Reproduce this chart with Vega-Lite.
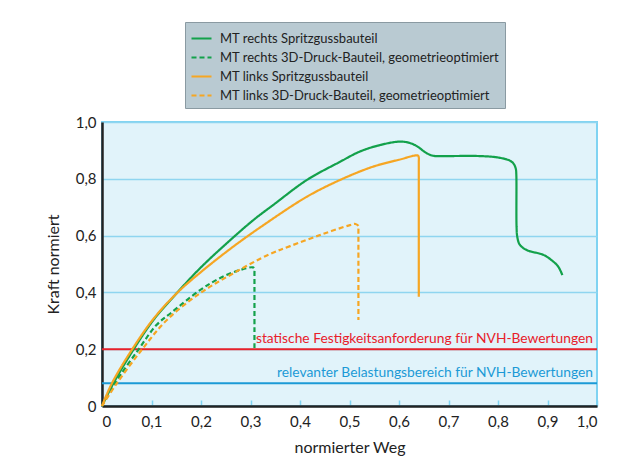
{
  "$schema": "https://vega.github.io/schema/vega-lite/v6.json",
  "autosize": "none",
  "width": 495,
  "height": 284,
  "padding": {"left": 102, "top": 122, "right": 38, "bottom": 68},
  "background": "#ffffff",
  "config": {
    "font": "Lato",
    "view": {"fill": "#e1f3fa", "stroke": "#7fd3f2", "strokeWidth": 2},
    "axis": {"labelFont": "Lato", "titleFont": "Lato", "labelFontSize": 15, "titleFontSize": 16, "labelColor": "#222", "titleColor": "#222", "titleFontWeight": "normal", "domainColor": "#222", "domainWidth": 2.5},
    "legend": {"orient": "none", "legendX": 83, "legendY": -100, "fillColor": "#b9cad2", "strokeColor": "#8a9aa2", "padding": 5, "symbolType": "stroke", "symbolStrokeWidth": 2.2, "symbolSize": 400, "labelFontSize": 13, "labelFont": "Lato", "labelColor": "#222", "rowPadding": 0, "labelOffset": 7, "labelLimit": 400}
  },
  "datasets": {
    "curves": [
      {"s": "MT rechts Spritzgussbauteil", "i": 1, "x": 0, "y": 0},
      {"s": "MT rechts Spritzgussbauteil", "i": 2, "x": 0.023, "y": 0.08},
      {"s": "MT rechts Spritzgussbauteil", "i": 3, "x": 0.063, "y": 0.197},
      {"s": "MT rechts Spritzgussbauteil", "i": 4, "x": 0.104, "y": 0.303},
      {"s": "MT rechts Spritzgussbauteil", "i": 5, "x": 0.154, "y": 0.403},
      {"s": "MT rechts Spritzgussbauteil", "i": 6, "x": 0.198, "y": 0.485},
      {"s": "MT rechts Spritzgussbauteil", "i": 7, "x": 0.252, "y": 0.573},
      {"s": "MT rechts Spritzgussbauteil", "i": 8, "x": 0.306, "y": 0.655},
      {"s": "MT rechts Spritzgussbauteil", "i": 9, "x": 0.346, "y": 0.708},
      {"s": "MT rechts Spritzgussbauteil", "i": 10, "x": 0.414, "y": 0.796},
      {"s": "MT rechts Spritzgussbauteil", "i": 11, "x": 0.481, "y": 0.86},
      {"s": "MT rechts Spritzgussbauteil", "i": 12, "x": 0.521, "y": 0.896},
      {"s": "MT rechts Spritzgussbauteil", "i": 13, "x": 0.562, "y": 0.919},
      {"s": "MT rechts Spritzgussbauteil", "i": 14, "x": 0.602, "y": 0.931},
      {"s": "MT rechts Spritzgussbauteil", "i": 15, "x": 0.622, "y": 0.926},
      {"s": "MT rechts Spritzgussbauteil", "i": 16, "x": 0.636, "y": 0.915},
      {"s": "MT rechts Spritzgussbauteil", "i": 17, "x": 0.656, "y": 0.89},
      {"s": "MT rechts Spritzgussbauteil", "i": 18, "x": 0.669, "y": 0.881},
      {"s": "MT rechts Spritzgussbauteil", "i": 19, "x": 0.683, "y": 0.88},
      {"s": "MT rechts Spritzgussbauteil", "i": 20, "x": 0.764, "y": 0.88},
      {"s": "MT rechts Spritzgussbauteil", "i": 21, "x": 0.8, "y": 0.875},
      {"s": "MT rechts Spritzgussbauteil", "i": 22, "x": 0.824, "y": 0.864},
      {"s": "MT rechts Spritzgussbauteil", "i": 23, "x": 0.832, "y": 0.852},
      {"s": "MT rechts Spritzgussbauteil", "i": 24, "x": 0.836, "y": 0.835},
      {"s": "MT rechts Spritzgussbauteil", "i": 25, "x": 0.837, "y": 0.815},
      {"s": "MT rechts Spritzgussbauteil", "i": 26, "x": 0.8375, "y": 0.63},
      {"s": "MT rechts Spritzgussbauteil", "i": 27, "x": 0.839, "y": 0.595},
      {"s": "MT rechts Spritzgussbauteil", "i": 28, "x": 0.844, "y": 0.568},
      {"s": "MT rechts Spritzgussbauteil", "i": 29, "x": 0.858, "y": 0.549},
      {"s": "MT rechts Spritzgussbauteil", "i": 30, "x": 0.892, "y": 0.532},
      {"s": "MT rechts Spritzgussbauteil", "i": 31, "x": 0.912, "y": 0.508},
      {"s": "MT rechts Spritzgussbauteil", "i": 32, "x": 0.922, "y": 0.49},
      {"s": "MT rechts Spritzgussbauteil", "i": 33, "x": 0.93, "y": 0.461},
      {"s": "MT rechts 3D-Druck-Bauteil, geometrieoptimiert", "i": 1, "x": 0, "y": 0},
      {"s": "MT rechts 3D-Druck-Bauteil, geometrieoptimiert", "i": 2, "x": 0.026, "y": 0.08},
      {"s": "MT rechts 3D-Druck-Bauteil, geometrieoptimiert", "i": 3, "x": 0.073, "y": 0.197},
      {"s": "MT rechts 3D-Druck-Bauteil, geometrieoptimiert", "i": 4, "x": 0.11, "y": 0.285},
      {"s": "MT rechts 3D-Druck-Bauteil, geometrieoptimiert", "i": 5, "x": 0.141, "y": 0.33},
      {"s": "MT rechts 3D-Druck-Bauteil, geometrieoptimiert", "i": 6, "x": 0.198, "y": 0.408},
      {"s": "MT rechts 3D-Druck-Bauteil, geometrieoptimiert", "i": 7, "x": 0.238, "y": 0.45},
      {"s": "MT rechts 3D-Druck-Bauteil, geometrieoptimiert", "i": 8, "x": 0.279, "y": 0.479},
      {"s": "MT rechts 3D-Druck-Bauteil, geometrieoptimiert", "i": 9, "x": 0.305, "y": 0.488},
      {"s": "MT rechts 3D-Druck-Bauteil, geometrieoptimiert", "i": 10, "x": 0.308, "y": 0.482},
      {"s": "MT rechts 3D-Druck-Bauteil, geometrieoptimiert", "i": 11, "x": 0.308, "y": 0.47},
      {"s": "MT rechts 3D-Druck-Bauteil, geometrieoptimiert", "i": 12, "x": 0.308, "y": 0.21},
      {"s": "MT rechts 3D-Druck-Bauteil, geometrieoptimiert", "i": 13, "x": 0.308, "y": 0.2},
      {"s": "MT links Spritzgussbauteil", "i": 1, "x": 0, "y": 0},
      {"s": "MT links Spritzgussbauteil", "i": 2, "x": 0.02, "y": 0.08},
      {"s": "MT links Spritzgussbauteil", "i": 3, "x": 0.06, "y": 0.197},
      {"s": "MT links Spritzgussbauteil", "i": 4, "x": 0.104, "y": 0.307},
      {"s": "MT links Spritzgussbauteil", "i": 5, "x": 0.151, "y": 0.397},
      {"s": "MT links Spritzgussbauteil", "i": 6, "x": 0.198, "y": 0.469},
      {"s": "MT links Spritzgussbauteil", "i": 7, "x": 0.265, "y": 0.561},
      {"s": "MT links Spritzgussbauteil", "i": 8, "x": 0.333, "y": 0.645},
      {"s": "MT links Spritzgussbauteil", "i": 9, "x": 0.414, "y": 0.737},
      {"s": "MT links Spritzgussbauteil", "i": 10, "x": 0.481, "y": 0.796},
      {"s": "MT links Spritzgussbauteil", "i": 11, "x": 0.548, "y": 0.843},
      {"s": "MT links Spritzgussbauteil", "i": 12, "x": 0.6, "y": 0.867},
      {"s": "MT links Spritzgussbauteil", "i": 13, "x": 0.638, "y": 0.882},
      {"s": "MT links Spritzgussbauteil", "i": 14, "x": 0.64, "y": 0.875},
      {"s": "MT links Spritzgussbauteil", "i": 15, "x": 0.64, "y": 0.86},
      {"s": "MT links Spritzgussbauteil", "i": 16, "x": 0.64, "y": 0.395},
      {"s": "MT links Spritzgussbauteil", "i": 17, "x": 0.64, "y": 0.385},
      {"s": "MT links 3D-Druck-Bauteil, geometrieoptimiert", "i": 1, "x": 0, "y": 0},
      {"s": "MT links 3D-Druck-Bauteil, geometrieoptimiert", "i": 2, "x": 0.03, "y": 0.08},
      {"s": "MT links 3D-Druck-Bauteil, geometrieoptimiert", "i": 3, "x": 0.08, "y": 0.197},
      {"s": "MT links 3D-Druck-Bauteil, geometrieoptimiert", "i": 4, "x": 0.131, "y": 0.303},
      {"s": "MT links 3D-Druck-Bauteil, geometrieoptimiert", "i": 5, "x": 0.198, "y": 0.397},
      {"s": "MT links 3D-Druck-Bauteil, geometrieoptimiert", "i": 6, "x": 0.265, "y": 0.467},
      {"s": "MT links 3D-Druck-Bauteil, geometrieoptimiert", "i": 7, "x": 0.339, "y": 0.535},
      {"s": "MT links 3D-Druck-Bauteil, geometrieoptimiert", "i": 8, "x": 0.38, "y": 0.563},
      {"s": "MT links 3D-Druck-Bauteil, geometrieoptimiert", "i": 9, "x": 0.447, "y": 0.606},
      {"s": "MT links 3D-Druck-Bauteil, geometrieoptimiert", "i": 10, "x": 0.501, "y": 0.637},
      {"s": "MT links 3D-Druck-Bauteil, geometrieoptimiert", "i": 11, "x": 0.512, "y": 0.641},
      {"s": "MT links 3D-Druck-Bauteil, geometrieoptimiert", "i": 12, "x": 0.518, "y": 0.634},
      {"s": "MT links 3D-Druck-Bauteil, geometrieoptimiert", "i": 13, "x": 0.518, "y": 0.62},
      {"s": "MT links 3D-Druck-Bauteil, geometrieoptimiert", "i": 14, "x": 0.518, "y": 0.313},
      {"s": "MT links 3D-Druck-Bauteil, geometrieoptimiert", "i": 15, "x": 0.518, "y": 0.303}
    ],
    "refs": [
      {"label": "statische Festigkeitsanforderung für NVH-Bewertungen", "y": 0.2, "kind": "static"},
      {"label": "relevanter Belastungsbereich für NVH-Bewertungen", "y": 0.08, "kind": "relevant"}
    ]
  },
  "layer": [
    {
      "data": {"name": "refs"},
      "transform": [{"filter": "datum.kind == 'static'"}],
      "layer": [
        {"mark": {"type": "rule", "strokeWidth": 2, "color": "#e8202a"},
          "encoding": {"y": {"field": "y", "type": "quantitative"}}},
        {"mark": {"type": "text", "align": "right", "baseline": "bottom", "dx": -4, "dy": -3, "fontSize": 13.8, "font": "Lato", "color": "#e8202a"},
          "encoding": {"x": {"datum": 1}, "y": {"field": "y", "type": "quantitative"}, "text": {"field": "label"}}}
      ]
    },
    {
      "data": {"name": "refs"},
      "transform": [{"filter": "datum.kind == 'relevant'"}],
      "layer": [
        {"mark": {"type": "rule", "strokeWidth": 2, "color": "#1b9ad6"},
          "encoding": {"y": {"field": "y", "type": "quantitative"}}},
        {"mark": {"type": "text", "align": "right", "baseline": "bottom", "dx": -4, "dy": -3, "fontSize": 13.8, "font": "Lato", "color": "#1b9ad6"},
          "encoding": {"x": {"datum": 1}, "y": {"field": "y", "type": "quantitative"}, "text": {"field": "label"}}}
      ]
    },
    {
      "data": {"name": "curves"},
      "mark": {"type": "line", "strokeWidth": 2.2, "strokeJoin": "round", "interpolate": "catmull-rom"},
      "encoding": {
        "x": {"field": "x", "type": "quantitative", "scale": {"domain": [0, 1], "nice": false},
          "axis": {"title": "normierter Weg", "values": [0, 0.1, 0.2, 0.3, 0.4, 0.5, 0.6, 0.7, 0.8, 0.9, 1], "labelExpr": "datum.value == 0 ? '0' : replace(format(datum.value, '.1f'), '.', ',')", "grid": false, "ticks": true, "tickColor": "#7fd3f2", "tickSize": -6, "tickWidth": 1.5, "labelPadding": 14, "titlePadding": 10}},
        "y": {"field": "y", "type": "quantitative", "scale": {"domain": [0, 1], "nice": false},
          "axis": {"title": "Kraft normiert", "values": [0, 0.2, 0.4, 0.6, 0.8, 1], "labelExpr": "datum.value == 0 ? '0' : replace(format(datum.value, '.1f'), '.', ',')", "grid": true, "gridColor": "#8fd5f0", "gridWidth": 1.5, "ticks": false, "labelPadding": 6, "titlePadding": 14}},
        "order": {"field": "i", "type": "quantitative"},
        "color": {"field": "s", "type": "nominal",
          "scale": {"domain": ["MT rechts Spritzgussbauteil", "MT rechts 3D-Druck-Bauteil, geometrieoptimiert", "MT links Spritzgussbauteil", "MT links 3D-Druck-Bauteil, geometrieoptimiert"], "range": ["#13a14b", "#13a14b", "#f6a623", "#f6a623"]},
          "legend": {"title": null}},
        "strokeDash": {"field": "s", "type": "nominal",
          "scale": {"domain": ["MT rechts Spritzgussbauteil", "MT rechts 3D-Druck-Bauteil, geometrieoptimiert", "MT links Spritzgussbauteil", "MT links 3D-Druck-Bauteil, geometrieoptimiert"], "range": [[1, 0], [5, 3], [1, 0], [5, 3]]},
          "legend": {"title": null}}
      }
    }
  ]
}
